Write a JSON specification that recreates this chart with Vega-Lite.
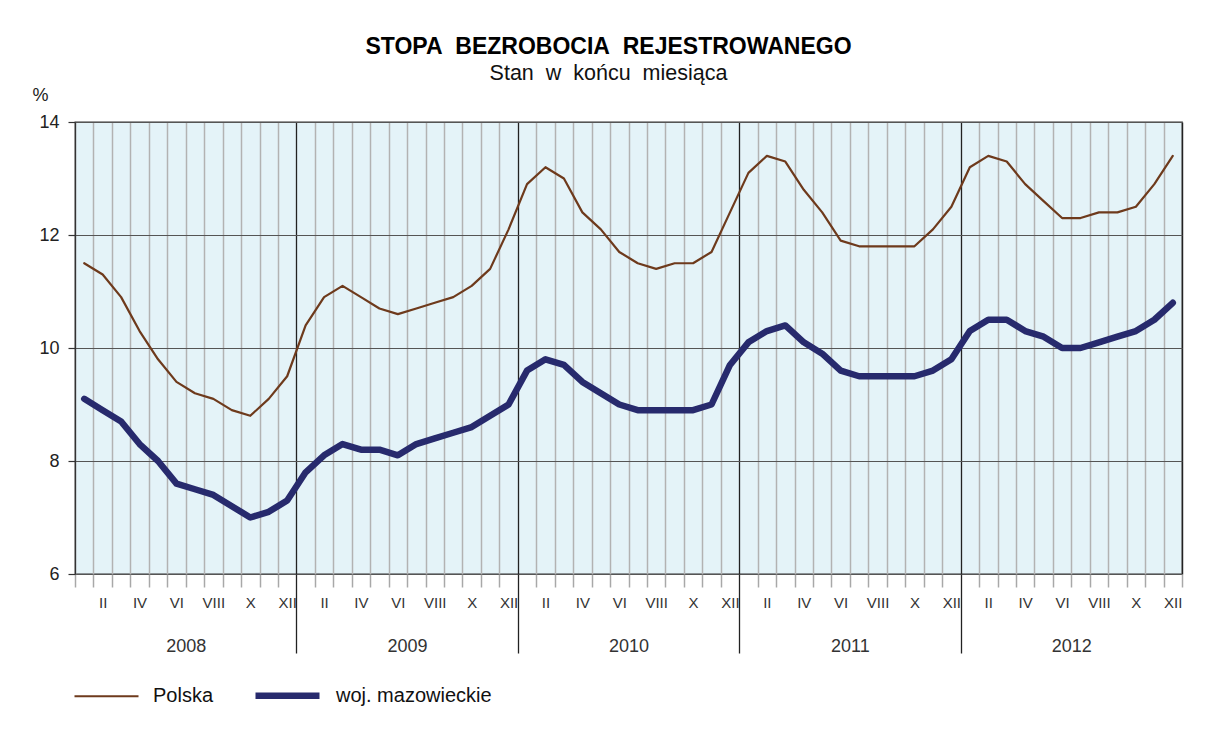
{
  "$schema": "https://vega.github.io/schema/vega-lite/v6.json",
  "width": 1107,
  "height": 452,
  "autosize": {"type": "none"},
  "padding": {"left": 75, "top": 122, "right": 29, "bottom": 157},
  "background": "white",
  "title": {
    "text": "STOPA\u00a0\u00a0BEZROBOCIA\u00a0\u00a0REJESTROWANEGO",
    "subtitle": "Stan\u00a0\u00a0w\u00a0\u00a0końcu\u00a0\u00a0miesiąca",
    "anchor": "middle",
    "dx": -20,
    "font": "Liberation Sans",
    "fontSize": 23,
    "fontWeight": "bold",
    "color": "#000000",
    "subtitleFont": "Liberation Sans",
    "subtitleFontSize": 21.5,
    "subtitleColor": "#111111",
    "subtitlePadding": 4,
    "offset": 2
  },
  "data": {
    "values": [
      {"nr": 1, "rok": 2008, "mies": 1, "polska": 11.5, "mazowieckie": 9.1},
      {"nr": 2, "rok": 2008, "mies": 2, "polska": 11.3, "mazowieckie": 8.9},
      {"nr": 3, "rok": 2008, "mies": 3, "polska": 10.9, "mazowieckie": 8.7},
      {"nr": 4, "rok": 2008, "mies": 4, "polska": 10.3, "mazowieckie": 8.3},
      {"nr": 5, "rok": 2008, "mies": 5, "polska": 9.8, "mazowieckie": 8.0},
      {"nr": 6, "rok": 2008, "mies": 6, "polska": 9.4, "mazowieckie": 7.6},
      {"nr": 7, "rok": 2008, "mies": 7, "polska": 9.2, "mazowieckie": 7.5},
      {"nr": 8, "rok": 2008, "mies": 8, "polska": 9.1, "mazowieckie": 7.4},
      {"nr": 9, "rok": 2008, "mies": 9, "polska": 8.9, "mazowieckie": 7.2},
      {"nr": 10, "rok": 2008, "mies": 10, "polska": 8.8, "mazowieckie": 7.0},
      {"nr": 11, "rok": 2008, "mies": 11, "polska": 9.1, "mazowieckie": 7.1},
      {"nr": 12, "rok": 2008, "mies": 12, "polska": 9.5, "mazowieckie": 7.3},
      {"nr": 13, "rok": 2009, "mies": 1, "polska": 10.4, "mazowieckie": 7.8},
      {"nr": 14, "rok": 2009, "mies": 2, "polska": 10.9, "mazowieckie": 8.1},
      {"nr": 15, "rok": 2009, "mies": 3, "polska": 11.1, "mazowieckie": 8.3},
      {"nr": 16, "rok": 2009, "mies": 4, "polska": 10.9, "mazowieckie": 8.2},
      {"nr": 17, "rok": 2009, "mies": 5, "polska": 10.7, "mazowieckie": 8.2},
      {"nr": 18, "rok": 2009, "mies": 6, "polska": 10.6, "mazowieckie": 8.1},
      {"nr": 19, "rok": 2009, "mies": 7, "polska": 10.7, "mazowieckie": 8.3},
      {"nr": 20, "rok": 2009, "mies": 8, "polska": 10.8, "mazowieckie": 8.4},
      {"nr": 21, "rok": 2009, "mies": 9, "polska": 10.9, "mazowieckie": 8.5},
      {"nr": 22, "rok": 2009, "mies": 10, "polska": 11.1, "mazowieckie": 8.6},
      {"nr": 23, "rok": 2009, "mies": 11, "polska": 11.4, "mazowieckie": 8.8},
      {"nr": 24, "rok": 2009, "mies": 12, "polska": 12.1, "mazowieckie": 9.0},
      {"nr": 25, "rok": 2010, "mies": 1, "polska": 12.9, "mazowieckie": 9.6},
      {"nr": 26, "rok": 2010, "mies": 2, "polska": 13.2, "mazowieckie": 9.8},
      {"nr": 27, "rok": 2010, "mies": 3, "polska": 13.0, "mazowieckie": 9.7},
      {"nr": 28, "rok": 2010, "mies": 4, "polska": 12.4, "mazowieckie": 9.4},
      {"nr": 29, "rok": 2010, "mies": 5, "polska": 12.1, "mazowieckie": 9.2},
      {"nr": 30, "rok": 2010, "mies": 6, "polska": 11.7, "mazowieckie": 9.0},
      {"nr": 31, "rok": 2010, "mies": 7, "polska": 11.5, "mazowieckie": 8.9},
      {"nr": 32, "rok": 2010, "mies": 8, "polska": 11.4, "mazowieckie": 8.9},
      {"nr": 33, "rok": 2010, "mies": 9, "polska": 11.5, "mazowieckie": 8.9},
      {"nr": 34, "rok": 2010, "mies": 10, "polska": 11.5, "mazowieckie": 8.9},
      {"nr": 35, "rok": 2010, "mies": 11, "polska": 11.7, "mazowieckie": 9.0},
      {"nr": 36, "rok": 2010, "mies": 12, "polska": 12.4, "mazowieckie": 9.7},
      {"nr": 37, "rok": 2011, "mies": 1, "polska": 13.1, "mazowieckie": 10.1},
      {"nr": 38, "rok": 2011, "mies": 2, "polska": 13.4, "mazowieckie": 10.3},
      {"nr": 39, "rok": 2011, "mies": 3, "polska": 13.3, "mazowieckie": 10.4},
      {"nr": 40, "rok": 2011, "mies": 4, "polska": 12.8, "mazowieckie": 10.1},
      {"nr": 41, "rok": 2011, "mies": 5, "polska": 12.4, "mazowieckie": 9.9},
      {"nr": 42, "rok": 2011, "mies": 6, "polska": 11.9, "mazowieckie": 9.6},
      {"nr": 43, "rok": 2011, "mies": 7, "polska": 11.8, "mazowieckie": 9.5},
      {"nr": 44, "rok": 2011, "mies": 8, "polska": 11.8, "mazowieckie": 9.5},
      {"nr": 45, "rok": 2011, "mies": 9, "polska": 11.8, "mazowieckie": 9.5},
      {"nr": 46, "rok": 2011, "mies": 10, "polska": 11.8, "mazowieckie": 9.5},
      {"nr": 47, "rok": 2011, "mies": 11, "polska": 12.1, "mazowieckie": 9.6},
      {"nr": 48, "rok": 2011, "mies": 12, "polska": 12.5, "mazowieckie": 9.8},
      {"nr": 49, "rok": 2012, "mies": 1, "polska": 13.2, "mazowieckie": 10.3},
      {"nr": 50, "rok": 2012, "mies": 2, "polska": 13.4, "mazowieckie": 10.5},
      {"nr": 51, "rok": 2012, "mies": 3, "polska": 13.3, "mazowieckie": 10.5},
      {"nr": 52, "rok": 2012, "mies": 4, "polska": 12.9, "mazowieckie": 10.3},
      {"nr": 53, "rok": 2012, "mies": 5, "polska": 12.6, "mazowieckie": 10.2},
      {"nr": 54, "rok": 2012, "mies": 6, "polska": 12.3, "mazowieckie": 10.0},
      {"nr": 55, "rok": 2012, "mies": 7, "polska": 12.3, "mazowieckie": 10.0},
      {"nr": 56, "rok": 2012, "mies": 8, "polska": 12.4, "mazowieckie": 10.1},
      {"nr": 57, "rok": 2012, "mies": 9, "polska": 12.4, "mazowieckie": 10.2},
      {"nr": 58, "rok": 2012, "mies": 10, "polska": 12.5, "mazowieckie": 10.3},
      {"nr": 59, "rok": 2012, "mies": 11, "polska": 12.9, "mazowieckie": 10.5},
      {"nr": 60, "rok": 2012, "mies": 12, "polska": 13.4, "mazowieckie": 10.8}
    ]
  },
  "transform": [{"fold": ["polska", "mazowieckie"], "as": ["seria", "stopa"]}],
  "encoding": {
    "y": {
      "field": "stopa",
      "type": "quantitative",
      "scale": {"domain": [6, 14], "nice": false, "zero": false},
      "axis": {
        "values": [6, 8, 10, 12, 14],
        "grid": true,
        "gridColor": "#555555",
        "gridWidth": 1.2,
        "tickSize": 7,
        "tickColor": "#333333",
        "tickWidth": 1.2,
        "domainColor": "#333333",
        "domainWidth": 1.2,
        "labelFont": "Liberation Sans",
        "labelFontSize": 18,
        "labelColor": "#222222",
        "labelPadding": 9,
        "title": "%",
        "titleAngle": 0,
        "titleX": -35,
        "titleY": -27,
        "titleAlign": "center",
        "titleBaseline": "middle",
        "titleFont": "Liberation Sans",
        "titleFontSize": 18,
        "titleFontWeight": "normal",
        "titleColor": "#222222"
      }
    },
    "color": {
      "field": "seria",
      "type": "nominal",
      "scale": {"domain": ["polska", "mazowieckie"], "range": ["#6E3A1C", "#272A6D"]},
      "legend": {
        "orient": "none",
        "legendX": -2,
        "legendY": 538,
        "direction": "horizontal",
        "title": null,
        "symbolType": "stroke",
        "symbolSize": 4096,
        "labelFont": "Liberation Sans",
        "labelFontSize": 20,
        "labelColor": "#111111",
        "labelOffset": 13,
        "columnPadding": 28,
        "padding": 0,
        "labelExpr": "datum.label == 'polska' ? 'Polska' : 'woj. mazowieckie'"
      }
    },
    "strokeWidth": {
      "field": "seria",
      "type": "nominal",
      "scale": {"domain": ["polska", "mazowieckie"], "range": [2.2, 6.5]},
      "legend": {
        "orient": "none",
        "legendX": -2,
        "legendY": 538,
        "direction": "horizontal",
        "title": null,
        "symbolType": "stroke",
        "symbolSize": 4096,
        "labelFont": "Liberation Sans",
        "labelFontSize": 20,
        "labelColor": "#111111",
        "labelOffset": 13,
        "columnPadding": 28,
        "padding": 0,
        "labelExpr": "datum.label == 'polska' ? 'Polska' : 'woj. mazowieckie'"
      }
    }
  },
  "layer": [
    {
      "transform": [{"filter": "datum.seria == 'polska'"}],
      "mark": {"type": "line", "strokeJoin": "round", "strokeCap": "round"},
      "encoding": {
        "x": {
          "field": "nr",
          "type": "quantitative",
          "scale": {"domain": [0.5, 60.5], "nice": false, "zero": false},
          "axis": {
            "orient": "bottom",
            "values": [0.5, 1.5, 2.5, 3.5, 4.5, 5.5, 6.5, 7.5, 8.5, 9.5, 10.5, 11.5, 13.5, 14.5, 15.5, 16.5, 17.5, 18.5, 19.5, 20.5, 21.5, 22.5, 23.5, 25.5, 26.5, 27.5, 28.5, 29.5, 30.5, 31.5, 32.5, 33.5, 34.5, 35.5, 37.5, 38.5, 39.5, 40.5, 41.5, 42.5, 43.5, 44.5, 45.5, 46.5, 47.5, 49.5, 50.5, 51.5, 52.5, 53.5, 54.5, 55.5, 56.5, 57.5, 58.5, 59.5, 60.5],
            "grid": true,
            "gridColor": "#B2B2B2",
            "gridWidth": 1.5,
            "domain": false,
            "tickSize": 13,
            "tickColor": "#A8A8A8",
            "tickWidth": 1.5,
            "labelExpr": "((datum.value - 0.5) % 12 + 1) % 2 == 0 ? ['', 'I', 'II', 'III', 'IV', 'V', 'VI', 'VII', 'VIII', 'IX', 'X', 'XI', 'XII'][(datum.value - 0.5) % 12 + 1] : ''",
            "labelOffset": 9.2,
            "labelFont": "Liberation Sans",
            "labelFontSize": 15,
            "labelColor": "#333333",
            "labelPadding": 8,
            "labelFlush": false,
            "labelOverlap": false,
            "labelBound": false,
            "title": null
          }
        }
      }
    },
    {
      "transform": [{"filter": "datum.seria == 'mazowieckie'"}],
      "mark": {"type": "line", "strokeJoin": "round", "strokeCap": "round"},
      "encoding": {
        "x": {
          "field": "nr",
          "type": "quantitative",
          "scale": {"domain": [0.5, 60.5], "nice": false, "zero": false},
          "axis": {
            "orient": "bottom",
            "values": [12.5, 24.5, 36.5, 48.5, 60.5],
            "grid": true,
            "gridColor": "#222222",
            "gridWidth": 1.3,
            "domain": false,
            "tickSize": 79,
            "tickColor": {"condition": {"test": "datum.value > 60", "value": "transparent"}, "value": "#222222"},
            "tickWidth": 1.3,
            "labelExpr": "'' + (2007 + (datum.value - 0.5) / 12)",
            "labelOffset": -110.7,
            "labelFont": "Liberation Sans",
            "labelFontSize": 18,
            "labelColor": "#333333",
            "labelPadding": -16,
            "labelFlush": false,
            "labelOverlap": false,
            "labelBound": false,
            "title": null
          }
        }
      }
    }
  ],
  "resolve": {"axis": {"x": "independent"}},
  "config": {
    "font": "Liberation Sans",
    "view": {"fill": "#E4F3F8", "stroke": "#333333", "strokeWidth": 1.3}
  }
}
